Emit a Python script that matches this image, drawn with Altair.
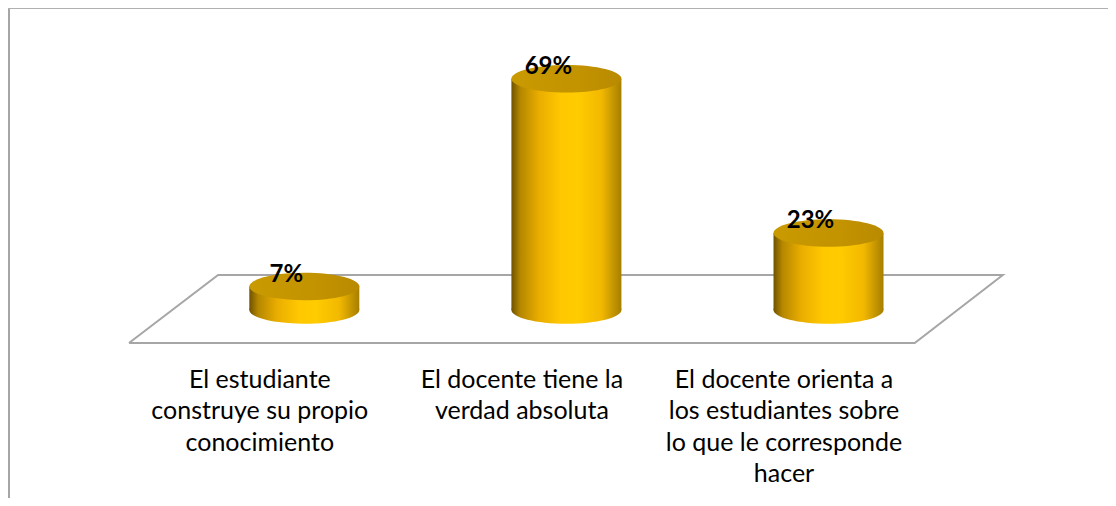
import altair as alt
import pandas as pd

# ---- data ----
categories = [
    "El estudiante construye su propio conocimiento",
    "El docente tiene la verdad absoluta",
    "El docente orienta a los estudiantes sobre lo que le corresponde hacer",
]
label_lines = [
    ["El estudiante", "construye su propio", "conocimiento"],
    ["El docente tiene la", "verdad absoluta"],
    ["El docente orienta a", "los estudiantes sobre", "lo que le corresponde", "hacer"],
]
values = [7, 69, 23]
value_labels = ["7%", "69%", "23%"]

# floor (3D base plane) outline, in category-index / percent units
floor_x = [-0.669, 2.329, 2.665, -0.329, -0.669]
floor_y = [-9.85, -9.85, 10.45, 10.45, -9.85]

df = pd.DataFrame({
    "cat": categories,
    "idx": list(range(len(categories))),
    "value": values,
    "label": value_labels,
    "base": [0] * len(categories),
})
floor_df = pd.DataFrame({"fx": floor_x, "fy": floor_y, "order": list(range(len(floor_x)))})

# ---- scales ----
xscale = alt.Scale(domain=[-1.1115, 3.0473], nice=False, zero=False)
yscale = alt.Scale(domain=[-11.94, 90.15], nice=False, zero=False)

label_expr = "[" + ",".join(
    "[" + ",".join("'" + s + "'" for s in lines) + "]" for lines in label_lines
) + "][datum.value]"

xaxis = alt.Axis(
    values=[0, 1, 2], labelExpr=label_expr, title=None,
    domain=False, ticks=False, grid=False, labelAngle=0,
    labelFont="Lato", labelFontSize=25, labelColor="#000000",
    labelLineHeight=31.5, labelBaseline="top", labelPadding=17,
    labelOffset=-45, labelFlush=False, labelOverlap=False, labelLimit=500,
)

body_grad = alt.LinearGradient(
    gradient="linear",
    stops=[
        alt.GradientStop(color="#6E5200", offset=0.0),
        alt.GradientStop(color="#B58700", offset=0.08),
        alt.GradientStop(color="#E9AD00", offset=0.25),
        alt.GradientStop(color="#FFC800", offset=0.45),
        alt.GradientStop(color="#FFCC00", offset=0.6),
        alt.GradientStop(color="#F2B800", offset=0.82),
        alt.GradientStop(color="#A67E00", offset=1.0),
    ],
    x1=0, x2=1, y1=0, y2=0,
)
top_grad = alt.LinearGradient(
    gradient="linear",
    stops=[
        alt.GradientStop(color="#C99A00", offset=0.0),
        alt.GradientStop(color="#C39300", offset=0.6),
        alt.GradientStop(color="#B98A00", offset=1.0),
    ],
    x1=0, x2=1, y1=0, y2=0,
)

ellipse = "M-1,0A1,0.25,0,1,1,1,0A1,0.25,0,1,1,-1,0Z"
CYL_W = 110

base = alt.Chart(df)

floor = alt.Chart(floor_df).mark_line(color="#A6A6A6", strokeWidth=2).encode(
    x=alt.X("fx:Q", scale=xscale, axis=xaxis),
    y=alt.Y("fy:Q", scale=yscale, axis=None),
    order="order:O",
)

bottom = base.mark_point(shape=ellipse, size=CYL_W * CYL_W, filled=True,
                         fill=body_grad, opacity=1, strokeWidth=0).encode(
    x=alt.X("idx:Q", scale=xscale, axis=xaxis),
    y=alt.Y("base:Q", scale=yscale, axis=None),
)

body = base.mark_bar(size=CYL_W, fill=body_grad, strokeWidth=0).encode(
    x=alt.X("idx:Q", scale=xscale, axis=xaxis),
    y=alt.Y("value:Q", scale=yscale, axis=None),
    y2="base:Q",
)

top = base.mark_point(shape=ellipse, size=CYL_W * CYL_W, filled=True,
                      fill=top_grad, opacity=1, strokeWidth=0).encode(
    x=alt.X("idx:Q", scale=xscale, axis=xaxis),
    y=alt.Y("value:Q", scale=yscale, axis=None),
)

text = base.mark_text(font="Lato", fontSize=24, fontWeight="bold", color="#000000",
                      dx=-18, dy=-5, baseline="alphabetic", align="center").encode(
    x=alt.X("idx:Q", scale=xscale, axis=xaxis),
    y=alt.Y("value:Q", scale=yscale, axis=None),
    text="label:N",
)

border_left = alt.Chart(df).mark_rule(color="#A6A6A6", strokeWidth=2).encode(
    x=alt.value(1), y=alt.value(0), y2=alt.value(600)
)
border_top = alt.Chart(df).mark_rule(color="#B0B0B0", strokeWidth=1).encode(
    x=alt.value(0), x2=alt.value(1200), y=alt.value(0.5)
)

chart = alt.layer(floor, bottom, body, top, text, border_left, border_top).properties(
    width=1100, height=342,
    autosize=alt.AutoSizeParams(type="none"),
    padding={"left": 0, "right": 0, "top": 0, "bottom": 148},
    background="white",
).configure_view(stroke=None)

chart.save("out.html", embed_options={"renderer": "svg", "actions": False})
